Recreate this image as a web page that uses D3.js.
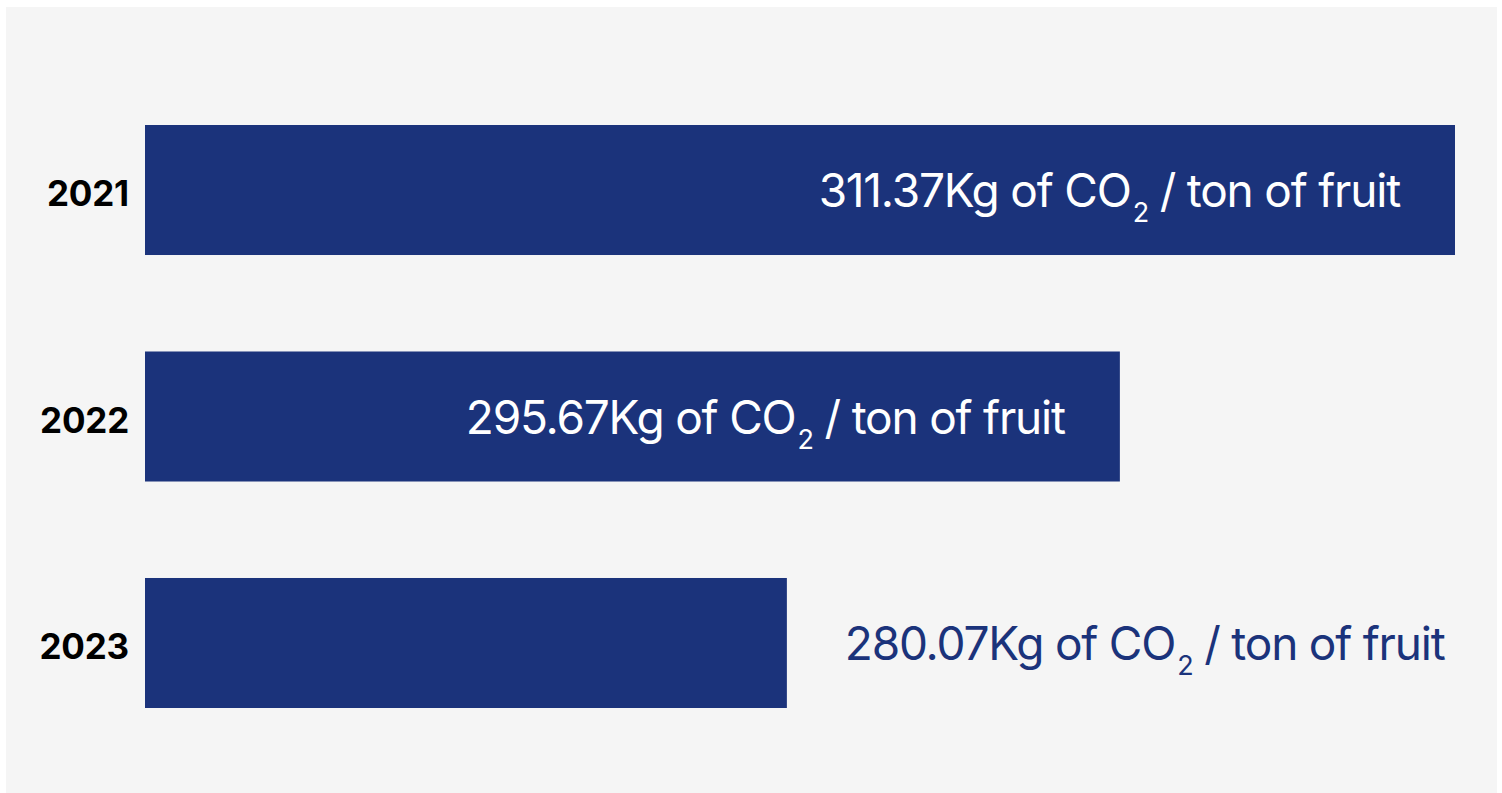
<!DOCTYPE html>
<html>
<head>
<meta charset="utf-8">
<script src="https://cdn.jsdelivr.net/npm/d3@7"></script>
<style>
  html, body { margin: 0; padding: 0; background: #ffffff; }
  svg { display: block; }
  text { font-family: Inter, "Noto Sans", sans-serif; }
</style>
</head>
<body>
<svg id="chart" width="1502" height="793"></svg>
<script>
// Emission intensity per year (kg CO2 per ton of fruit)
const years = ["2021", "2022", "2023"];
const values = [311.37, 295.67, 280.07];
const unitPrefix = "Kg of CO";
const unitSub = "2";
const unitSuffix = " / ton of fruit";

const barColor = "#1b337b";
const svg = d3.select("#chart");

// panel background
svg.append("rect")
  .attr("x", 6).attr("y", 7)
  .attr("width", 1491).attr("height", 786)
  .attr("fill", "#f5f5f5");

const x = d3.scaleLinear()
  .domain([250, d3.max(values)])
  .range([145, 1455]);

const y = d3.scaleBand()
  .domain(years)
  .range([125, 708])
  .paddingInner(0.426)
  .paddingOuter(0);

const data = years.map((yr, i) => ({ year: yr, value: values[i] }));

// bars
svg.selectAll("rect.bar")
  .data(data)
  .join("rect")
  .attr("class", "bar")
  .attr("x", x.range()[0])
  .attr("y", d => y(d.year))
  .attr("width", d => x(d.value) - x.range()[0])
  .attr("height", y.bandwidth())
  .attr("fill", barColor);

// year axis on the left
const yAxis = d3.axisLeft(y).tickSize(0).tickPadding(16);
const gy = svg.append("g")
  .attr("transform", `translate(${x.range()[0]},0)`)
  .call(yAxis);
gy.select(".domain").remove();
gy.selectAll("text")
  .attr("font-family", "Inter, 'Noto Sans', sans-serif")
  .attr("font-size", 35)
  .attr("font-weight", 700)
  .attr("letter-spacing", "-0.2px")
  .attr("fill", "#000")
  .attr("dy", "0.46em");

// value labels: inside the bar when it is wide enough, after it otherwise
const inside = d => d.value > 290;

const labels = svg.selectAll("text.value")
  .data(data)
  .join("text")
  .attr("class", "value")
  .attr("font-size", 46)
  .attr("letter-spacing", "-1.2px")
  .attr("fill", d => inside(d) ? "#ffffff" : barColor)
  .attr("text-anchor", d => inside(d) ? "end" : "start")
  .attr("x", d => inside(d) ? x(d.value) - 55 : x(d.value) + 58)
  .attr("y", d => y(d.year) + y.bandwidth() / 2 + 17);

labels.append("tspan").text(d => d3.format(".2f")(d.value) + unitPrefix);
labels.append("tspan")
  .attr("font-size", 27)
  .attr("dy", 15)
  .attr("dx", 2)
  .text(unitSub);
labels.append("tspan")
  .attr("dy", -15)
  .text(unitSuffix);
</script>
</body>
</html>
